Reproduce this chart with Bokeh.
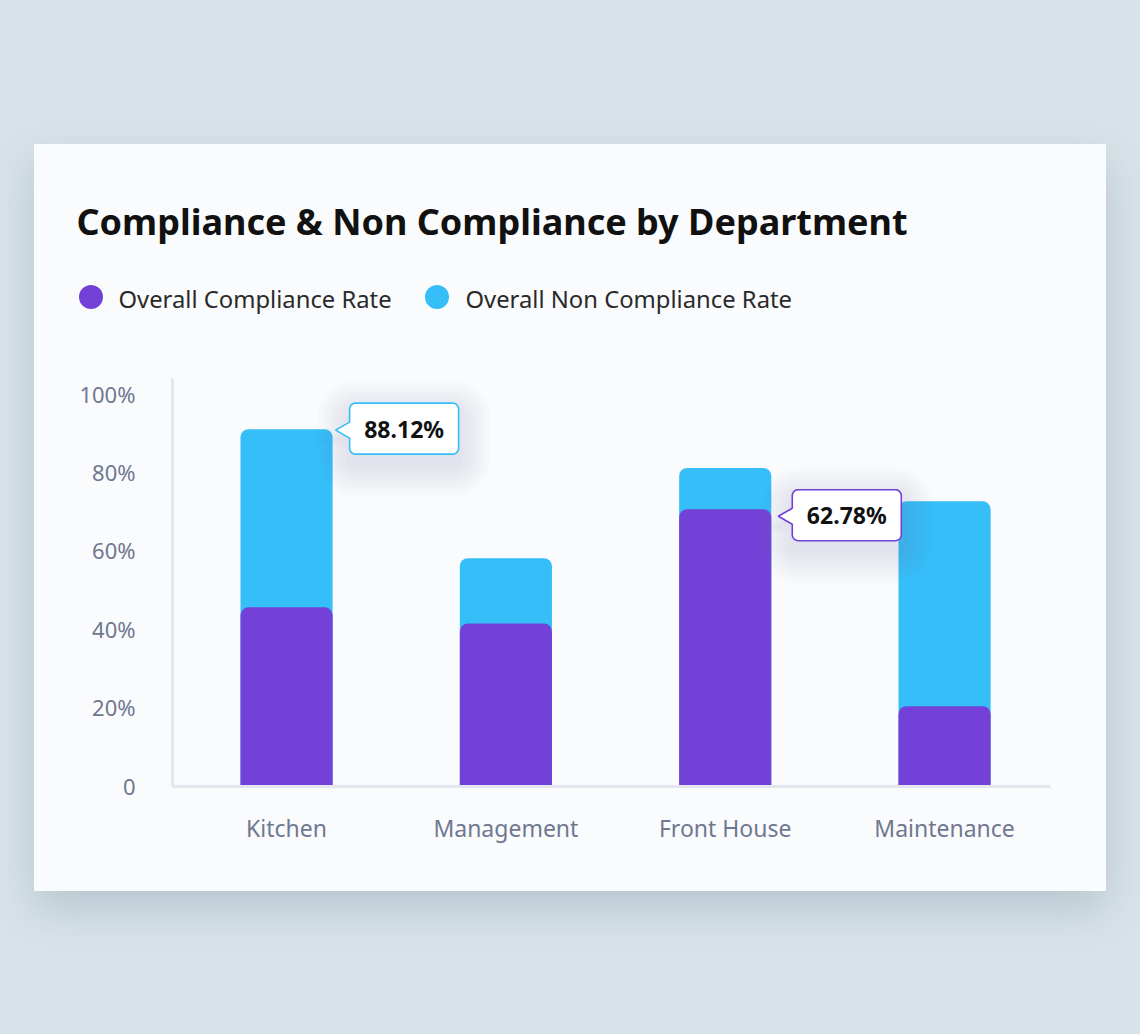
import numpy as np
from bokeh.plotting import figure
from bokeh.layouts import column
from bokeh.models import Range1d, FixedTicker
from bokeh.core.properties import value
from bokeh.embed import file_html
from bokeh.resources import INLINE

# ---------------- data ----------------
departments = ["Kitchen", "Management", "Front House", "Maintenance"]
compliance = [45.4, 41.3, 70.4, 20.2]
non_compliance = [45.4, 16.6, 10.5, 52.2]
y_ticks = [0, 20, 40, 60, 80, 100]
y_tick_labels = ["0", "20%", "40%", "60%", "80%", "100%"]
series_names = ["Overall Compliance Rate", "Overall Non Compliance Rate"]
callout_texts = ["88.12%", "62.78%"]
title_text = "Compliance & Non Compliance by Department"

# ---------------- style ----------------
PURPLE = "#7341d8"
BLUE = "#35bef8"
BG = "#d8e3e9"
CARD = "#fafbfc"
AXIS = "#e3e6ef"
TICK = "#6f7891"
FONT = "Noto Sans"

CARD_W, CARD_H = 1072, 747
HEAD_H = 234
CHART_H = CARD_H - HEAD_H
FL, FR = 138, 1016
FRAME_H = 408

# ---------------- header (title + legend) ----------------
head = figure(width=CARD_W, height=HEAD_H, x_range=Range1d(0, CARD_W), y_range=Range1d(HEAD_H, 0),
              min_border=0, min_border_left=0, min_border_right=0, min_border_top=0, min_border_bottom=0,
              toolbar_location=None, output_backend="svg",
              x_axis_location=None, y_axis_location=None)
head.frame_align = False
head.grid.visible = False
head.outline_line_color = None
head.background_fill_color = CARD
head.border_fill_color = CARD

head.text(x=[42], y=[77], text=[title_text], text_font=value(FONT), text_font_style="bold",
          text_font_size="36px", text_color="#111111", text_baseline="middle", text_align="left")

leg_cx = [56.5, 402.5]
leg_tx = [84, 431]
colors = [PURPLE, BLUE]
head.scatter(x=leg_cx, y=[152.5, 152.5], size=24, color=colors, line_color=None)
head.text(x=leg_tx, y=[154, 154], text=series_names, text_font=value(FONT),
          text_font_size="23.8px", text_color="#2a2a2a", text_baseline="middle", text_align="left")

# ---------------- chart ----------------
x = list(range(len(departments)))
totals = [c + n for c, n in zip(compliance, non_compliance)]

X0, X1 = -0.52, 3.483
Y0, Y1 = -0.25, 103.7
XPX = (FR - FL) / (X1 - X0)
YPX = FRAME_H / (Y1 - Y0)

p = figure(width=CARD_W, height=CHART_H, x_range=Range1d(X0, X1), y_range=Range1d(Y0, Y1),
           min_border_left=FL, min_border_right=CARD_W - FR, min_border_top=0,
           min_border_bottom=CHART_H - FRAME_H, toolbar_location=None, output_backend="svg")
p.frame_align = False
p.grid.visible = False
p.outline_line_color = None
p.background_fill_color = CARD
p.border_fill_color = CARD

BW = 0.42
p.vbar(x=x, top=totals, bottom=0, width=BW, color=BLUE, line_color=None, border_radius=(8, 8, 0, 0))
p.vbar(x=x, top=compliance, bottom=0, width=BW, color=PURPLE, line_color=None, border_radius=(8, 8, 0, 0))

for ax in (p.xaxis[0], p.yaxis[0]):
    ax.axis_line_color = AXIS
    ax.axis_line_width = 3
    ax.major_tick_line_color = None
    ax.minor_tick_line_color = None
    ax.major_tick_out = 0
    ax.major_tick_in = 0
    ax.major_label_text_font = FONT
    ax.major_label_text_color = TICK

p.xaxis.ticker = FixedTicker(ticks=x)
p.xaxis.major_label_overrides = {i: d for i, d in zip(x, departments)}
p.xaxis.major_label_standoff = 25
p.xaxis.major_label_text_font_size = "23px"

p.yaxis.ticker = FixedTicker(ticks=y_ticks)
p.yaxis.major_label_overrides = {t: l for t, l in zip(y_ticks, y_tick_labels)}
p.yaxis.major_label_standoff = 37
p.yaxis.major_label_text_font_size = "22px"


# ---------------- callouts ----------------
def callout_shape(tx, ty, dL, w, h, dy, ph, r=6, grow=0.0, shift=0.0):
    """Callout outline (px offsets from the pointer tip) converted to data coords."""
    L = dL - grow
    R = dL + w + grow
    T = dy - h / 2 - grow + shift
    B = dy + h / 2 + grow + shift
    rr = r + grow
    pts = [(L, ph + shift)]
    for a in np.linspace(np.pi, np.pi / 2, 8):
        pts.append((L + rr + rr * np.cos(a), B - rr + rr * np.sin(a)))
    for a in np.linspace(np.pi / 2, 0, 8):
        pts.append((R - rr + rr * np.cos(a), B - rr + rr * np.sin(a)))
    for a in np.linspace(0, -np.pi / 2, 8):
        pts.append((R - rr + rr * np.cos(a), T + rr + rr * np.sin(a)))
    for a in np.linspace(-np.pi / 2, -np.pi, 8):
        pts.append((L + rr + rr * np.cos(a), T + rr + rr * np.sin(a)))
    pts.append((L, -ph + shift))
    pts.append((-grow * 0.7, shift))
    pts.append((L, ph + shift))
    xs = [tx + px / XPX for px, _ in pts]
    ys = [ty - py / YPX for _, py in pts]
    return xs, ys


callouts = [
    # (category index, anchor value, tip offset from bar edge px, tip y offset px, colour, box dy)
    (0, totals[0], 3, 1, BLUE, -1.5),
    (2, compliance[2], 7, 7, PURPLE, -1.0),
]
for (ci, val, tipoff, tipdy, col, dy), txt in zip(callouts, callout_texts):
    tx = ci + BW / 2 + tipoff / XPX
    ty = val - tipdy / YPX
    for k in range(8):
        sx, sy = callout_shape(tx, ty, 14, 109, 51, dy, 8, grow=4 + k * 4, shift=10)
        p.patch(sx, sy, fill_color="#7d8db5", fill_alpha=0.022, line_color=None)
    sx, sy = callout_shape(tx, ty, 14, 109, 51, dy, 8)
    p.patch(sx, sy, fill_color="#ffffff", line_color=col, line_width=1.6)
    p.text(x=[tx + (14 + 109 / 2) / XPX], y=[ty - dy / YPX], text=[txt], text_font=value(FONT),
           text_font_style="bold", text_font_size="23px", text_color="#111111",
           text_baseline="middle", text_align="center")

card = column(head, p, width=CARD_W, height=CARD_H, margin=(144, 0, 0, 34), spacing=0,
              styles={"background-color": CARD, "box-shadow": "0 18px 40px rgba(70, 95, 120, 0.22)"})
page = column(card, width=1140, height=1034, spacing=0, styles={"background-color": BG})

open("out.html", "w").write(file_html(page, INLINE))
